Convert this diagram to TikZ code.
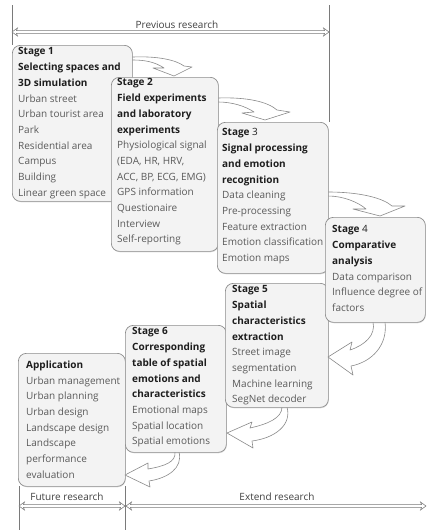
\documentclass[tikz,border=0pt]{standalone}
\usepackage{fontspec}
\setmainfont{Open Sans}
\usetikzlibrary{arrows.meta,calc,shadows}
\definecolor{boxline}{HTML}{8C8C8C}
\definecolor{boxfill}{HTML}{F3F3F3}
\definecolor{titlecol}{HTML}{1E1E1E}
\definecolor{itemcol}{HTML}{5A5A5A}
\definecolor{arrowline}{HTML}{8A8A8A}
\definecolor{guidecol}{HTML}{7A7A7A}
\newcommand\stagetitle[1]{{\bfseries\color{titlecol}#1}}
% hollow two-headed span arrow between two named coordinates (horizontal)
\newcommand\hollowspan[2]{%
  \draw[spanshape] (#1) -- ($(#1)+(5.5,-4)$) -- ($(#1)+(4.5,-1.4)$)
    -- ($(#2)+(-4.5,-1.4)$) -- ($(#2)+(-5.5,-4)$) -- (#2)
    -- ($(#2)+(-5.5,4)$) -- ($(#2)+(-4.5,1.4)$)
    -- ($(#1)+(4.5,1.4)$) -- ($(#1)+(5.5,4)$) -- cycle;}
\begin{document}
\begin{tikzpicture}[x=1pt,y=-1pt,
  stagebox/.style={draw=boxline, fill=boxfill, rounded corners=8pt, line width=0.7pt,
    inner sep=0pt, anchor=north west,
    drop shadow={shadow xshift=0.5pt, shadow yshift=-0.9pt, opacity=0.25}},
  stagetext/.style={anchor=north west, inner sep=0pt, align=left,
    font=\fontsize{10}{15.7}\selectfont, text=itemcol},
  blockarrow/.style={draw=arrowline, fill=white, line width=0.6pt, line join=round},
  guide/.style={draw=guidecol, line width=0.8pt},
  spanshape/.style={draw=guidecol, fill=white, line width=0.55pt, line join=miter},
  spanlabel/.style={inner sep=0pt, font=\fontsize{10}{12}\selectfont, text=black!75}
]
\useasboundingbox (0,0) rectangle (426,530);

% research phase brackets
\coordinate (topL) at (12,5);
\coordinate (topR) at (329,5);
\coordinate (prevL) at (12,32);
\coordinate (prevR) at (329,32);
\draw[guide] (topL) -- (12,45);
\draw[guide] (topR) -- (329,122);
\hollowspan{prevL}{prevR}
\node[spanlabel] (prev) at (177,25) {Previous research};

\coordinate (botA) at (19,486);
\coordinate (botB) at (125,486);
\draw[guide] (botA) -- (19,530);
\draw[guide] (botB) -- (125,530);
\coordinate (futL) at (19,506);
\coordinate (futR) at (125,506);
\coordinate (extL) at (126,506);
\coordinate (extR) at (426,506);
\hollowspan{futL}{futR}
\hollowspan{extL}{extR}
\node[spanlabel] (future) at (67,497) {Future research};
\node[spanlabel] (extend) at (277,497) {Extend research};

% stage 1
\draw[blockarrow] (126,57) -- (133,57) .. controls (158,56) and (176,60) .. (184,66)
  -- (192,67) -- (174,76) -- (153,68) -- (164,68)
  .. controls (155,62) and (145,60) .. (133,60) -- (126,60) -- cycle;
\node[stagebox, minimum width=120pt, minimum height=156pt] (s1) at (12,45) {};
\node[stagetext] (t1) at (18,47.5) {\stagetitle{Stage 1}\\ \stagetitle{Selecting spaces and}\\
  \stagetitle{3D simulation}\\ Urban street\\ Urban tourist area\\ Park\\ Residential area\\
  Campus\\ Building\\ Linear green space};

% stage 2
\draw[blockarrow] (211,98) -- (218,98) .. controls (248,97) and (268,102) .. (277,110)
  -- (290,112) -- (265,120) -- (242,113) -- (254,112)
  .. controls (245,106) and (232,102) .. (218,102) -- (211,102) -- cycle;
\node[stagebox, minimum width=107pt, minimum height=174pt] (s2) at (111,77) {};
\node[stagetext] (t2) at (117,78.5) {\stagetitle{Stage 2}\\ \stagetitle{Field experiments}\\
  \stagetitle{and laboratory}\\ \stagetitle{experiments}\\ Physiological signal\\
  (EDA, HR, HRV,\\ ACC, BP, ECG, EMG)\\ GPS information\\ Questionaire\\ Interview\\
  Self-reporting};

% stage 3
\draw[blockarrow] (321,192) -- (328,192) .. controls (360,192) and (383,198) .. (392,206)
  -- (405,206) -- (380,216) -- (353,209) -- (366,209)
  .. controls (358,202) and (343,196) .. (328,196) -- (321,196) -- cycle;
\node[stagebox, minimum width=111pt, minimum height=151pt] (s3) at (217,122) {};
\node[stagetext] (t3) at (222,128.5) {\stagetitle{Stage }{\color{titlecol}3}\\
  \stagetitle{Signal processing}\\ \stagetitle{and emotion}\\ \stagetitle{recognition}\\
  Data cleaning\\ Pre-processing\\ Feature extraction\\ Emotion classification\\
  Emotion maps};

% application
\node[stagebox, minimum width=107pt, minimum height=133pt] (app) at (18,353) {};
\node[stagetext] (tapp) at (26,360.5) {\stagetitle{Application}\\ Urban management\\
  Urban planning\\ Urban design\\ Landscape design\\ Landscape\\ performance\\ evaluation};

% stage 6
\draw[blockarrow] (179,444) -- (179,452) .. controls (183,468) and (168,478) .. (149,481)
  -- (150,487) -- (125,475) -- (148,463) -- (148,469)
  .. controls (165,466) and (176,462) .. (175,452) -- (175,444) -- cycle;
\node[stagebox, minimum width=101pt, minimum height=127pt] (s6) at (125,325) {};
\node[stagetext] (t6) at (132,327.5) {\stagetitle{Stage 6}\\ \stagetitle{Corresponding}\\
  \stagetitle{table of spatial}\\ \stagetitle{emotions and}\\ \stagetitle{characteristics}\\
  Emotional maps\\ Spatial location\\ Spatial emotions};

% stage 5
\draw[blockarrow] (287,399) -- (287,407) .. controls (292,425) and (275,438) .. (252,441)
  -- (253,448) -- (227,433) -- (252,422) -- (250,428)
  .. controls (268,424) and (282,418) .. (282,407) -- (282,399) -- cycle;
\node[stagebox, minimum width=103pt, minimum height=124pt] (s5) at (225,283) {};
\node[stagetext] (t5) at (232,285.5) {\stagetitle{Stage 5}\\ \stagetitle{Spatial}\\
  \stagetitle{characteristics}\\ \stagetitle{extraction}\\ Street image\\ segmentation\\
  Machine learning\\ SegNet decoder};

% stage 4
\draw[blockarrow] (385,314) -- (385,322) .. controls (388,345) and (372,362) .. (351,366)
  -- (353,375) -- (328,357) -- (352,342) -- (350,350)
  .. controls (365,345) and (376,335) .. (373,322) -- (373,314) -- cycle;
\node[stagebox, minimum width=100pt, minimum height=105pt] (s4) at (325,217) {};
\node[stagetext] (t4) at (332,225.5) {\stagetitle{Stage }{\color{titlecol}4}\\
  \stagetitle{Comparative}\\ \stagetitle{analysis}\\ Data comparison\\
  Influence degree of\\ factors};
\end{tikzpicture}
\end{document}
